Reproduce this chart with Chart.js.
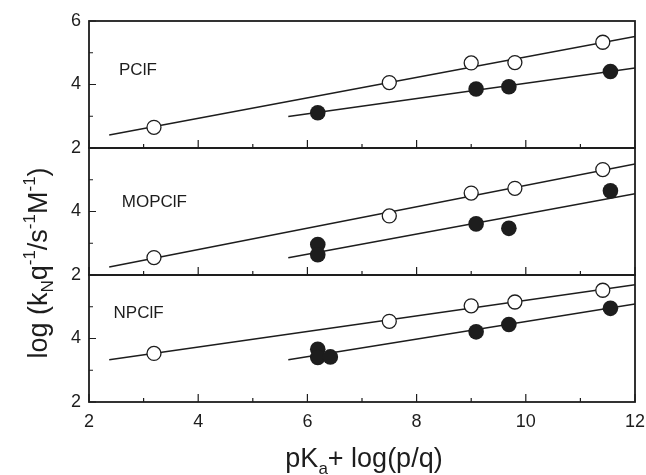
<!DOCTYPE html>
<html lang="en">
<head>
<meta charset="UTF-8">
<title>log(kN) vs pKa + log(p/q)</title>
<script src="https://cdn.jsdelivr.net/npm/chart.js"></script>
<style>
  * { margin: 0; padding: 0; box-sizing: border-box; }
  body { background: #fff; width: 646px; height: 475px; overflow: hidden; }
</style>
</head>
<body>
<canvas id="chart" width="646" height="475"></canvas>
<script>
// panel names, top to bottom
const panels = ['PClF', 'MOPClF', 'NPClF'];
const xTicks = [2, 4, 6, 8, 10, 12];
const yTicks = [2, 4, 6];

// open circles (same x values in every panel)
const openX = [3.19, 7.50, 9.00, 9.80, 11.41];
const openPClF = [2.65, 4.06, 4.68, 4.69, 5.33];
const openMOPClF = [2.55, 3.86, 4.58, 4.73, 5.32];
const openNPClF = [3.53, 4.54, 5.03, 5.15, 5.52];

// filled circles
const filledXPClF = [6.19, 9.09, 9.69, 11.55];
const filledPClF = [3.11, 3.86, 3.93, 4.41];
const filledXMOPClF = [6.19, 6.19, 9.09, 9.69, 11.55];
const filledMOPClF = [2.96, 2.64, 3.61, 3.47, 4.65];
const filledXNPClF = [6.19, 6.19, 6.42, 9.09, 9.69, 11.55];
const filledNPClF = [3.66, 3.40, 3.42, 4.21, 4.44, 4.95];

// fitted lines: [start, end]
const openLineX = [2.37, 12];
const filledLineX = [5.65, 12];
const openLinePClF = [2.41, 5.51];
const filledLinePClF = [2.99, 4.52];
const openLineMOPClF = [2.25, 5.50];
const filledLineMOPClF = [2.54, 4.56];
const openLineNPClF = [3.33, 5.69];
const filledLineNPClF = [3.33, 5.09];

const ink = '#1d1d1d';
const font = '"Liberation Sans", Arial, sans-serif';

const pts = (xs, ys) => xs.map((x, i) => ({ x: x, y: ys[i] }));

const panelData = [
  { axis: 'yTop', open: openPClF, fx: filledXPClF, fy: filledPClF, ol: openLinePClF, fl: filledLinePClF },
  { axis: 'yMid', open: openMOPClF, fx: filledXMOPClF, fy: filledMOPClF, ol: openLineMOPClF, fl: filledLineMOPClF },
  { axis: 'yBot', open: openNPClF, fx: filledXNPClF, fy: filledNPClF, ol: openLineNPClF, fl: filledLineNPClF }
];

const datasets = [];
panelData.forEach(p => {
  datasets.push({
    type: 'line', data: pts(openLineX, p.ol), yAxisID: p.axis, order: 2,
    borderColor: ink, borderWidth: 1.5, pointRadius: 0, fill: false
  });
  datasets.push({
    type: 'line', data: pts(filledLineX, p.fl), yAxisID: p.axis, order: 2,
    borderColor: ink, borderWidth: 1.5, pointRadius: 0, fill: false
  });
  datasets.push({
    type: 'scatter', data: pts(openX, p.open), yAxisID: p.axis, order: 1,
    pointRadius: 7, borderWidth: 1.3, borderColor: ink, backgroundColor: '#fff'
  });
  datasets.push({
    type: 'scatter', data: pts(p.fx, p.fy), yAxisID: p.axis, order: 1,
    pointRadius: 7.8, borderWidth: 0, backgroundColor: ink
  });
});

function yScale(hideTop) {
  return {
    type: 'linear', position: 'left', stack: 'panels', stackWeight: 1,
    min: 2, max: 6,
    afterBuildTicks: s => { s.ticks = yTicks.map(v => ({ value: v })); },
    afterFit: s => { s.width = 89; },
    grid: { display: false, drawTicks: false },
    border: { display: false },
    ticks: {
      padding: 8, color: ink, font: { family: font, size: 18 },
      callback: v => (hideTop && v === 6) ? '' : v
    }
  };
}

// text with sub/superscripts: [text, size, dy]
function richText(ctx, parts, x, y) {
  let w = 0;
  parts.forEach(p => { ctx.font = p[1] + 'px ' + font; w += ctx.measureText(p[0]).width; });
  let cx = x - w / 2;
  parts.forEach(p => {
    ctx.font = p[1] + 'px ' + font;
    ctx.fillText(p[0], cx, y + p[2]);
    cx += ctx.measureText(p[0]).width;
  });
}

const framePlugin = {
  id: 'frame',
  afterDraw(chart) {
    const ctx = chart.ctx;
    const x = chart.scales.x;
    const left = chart.chartArea.left, right = chart.chartArea.right;
    ctx.save();
    ctx.strokeStyle = ink;
    ctx.fillStyle = ink;
    ['yTop', 'yMid', 'yBot'].forEach(id => {
      const s = chart.scales[id];
      ctx.lineWidth = 1.8;
      ctx.strokeRect(left, s.top, right - left, s.bottom - s.top);
      ctx.lineWidth = 1.2;
      ctx.beginPath();
      for (let v = 2; v <= 6; v++) {
        const py = s.getPixelForValue(v);
        ctx.moveTo(left, py);
        ctx.lineTo(left + (v % 2 === 0 ? 7 : 4), py);
      }
      for (let v = 2; v <= 12; v++) {
        const px = x.getPixelForValue(v);
        ctx.moveTo(px, s.bottom);
        ctx.lineTo(px, s.bottom - (v % 2 === 0 ? 8 : 4));
      }
      ctx.stroke();
    });

    // panel names
    ctx.font = '17px ' + font;
    ctx.textAlign = 'left';
    ctx.textBaseline = 'middle';
    const labelPos = [[2.55, 4.44], [2.60, 4.30], [2.45, 4.78]];
    ['yTop', 'yMid', 'yBot'].forEach((id, i) => {
      const s = chart.scales[id];
      ctx.fillText(panels[i], x.getPixelForValue(labelPos[i][0]), s.getPixelForValue(labelPos[i][1]));
    });

    // axis titles
    ctx.textAlign = 'left';
    ctx.textBaseline = 'alphabetic';
    richText(ctx, [['pK', 27, 0], ['a', 17, 7], ['+ log(p/q)', 27, 0]], (left + right) / 2 + 2, 467);

    ctx.translate(47, 263);
    ctx.rotate(-Math.PI / 2);
    richText(ctx, [
      ['log (k', 27, 0], ['N', 17, 6], ['q', 27, 0], ['-1', 17, -12],
      ['/s', 27, 0], ['-1', 17, -12], ['M', 27, 0], ['-1', 17, -12], [')', 27, 0]
    ], 0, 0);
    ctx.restore();
  }
};

new Chart(document.getElementById('chart'), {
  data: { datasets: datasets },
  options: {
    responsive: false,
    animation: false,
    devicePixelRatio: 1,
    layout: { padding: { left: 0, right: 11, top: 21, bottom: 0 } },
    plugins: { legend: { display: false }, tooltip: { enabled: false } },
    scales: {
      x: {
        type: 'linear', position: 'bottom', min: 2, max: 12,
        afterBuildTicks: s => { s.ticks = xTicks.map(v => ({ value: v })); },
        afterFit: s => { s.height = 73; s.paddingLeft = 0; s.paddingRight = 0; },
        grid: { display: false, drawTicks: false },
        border: { display: false },
        ticks: { padding: 9, color: ink, font: { family: font, size: 18 } }
      },
      // stacked left axes are placed last-defined on top
      yBot: yScale(true),
      yMid: yScale(true),
      yTop: yScale(false)
    }
  },
  plugins: [framePlugin]
});
</script>
</body>
</html>
